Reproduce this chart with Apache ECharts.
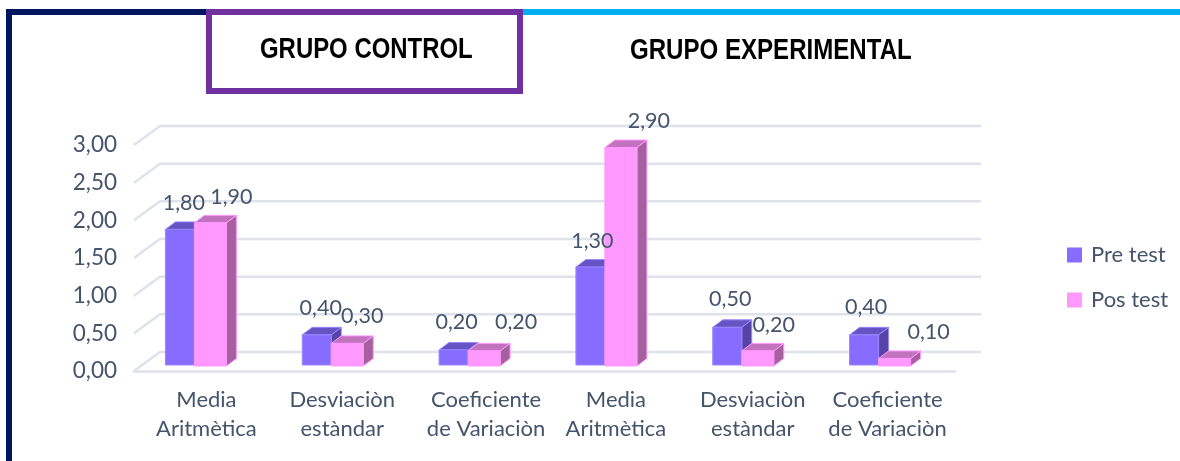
<!DOCTYPE html>
<html>
<head>
<meta charset="utf-8">
<style>
  html, body { margin: 0; padding: 0; background: #fff; }
  #chart { width: 1180px; height: 461px; }
</style>
<script src="https://cdn.jsdelivr.net/npm/echarts@6/dist/echarts.min.js"></script>
</head>
<body>
<div id="chart"></div>
<script>
const categories = [
  "Media\nAritmètica", "Desviaciòn\nestàndar", "Coeficiente\nde Variaciòn",
  "Media\nAritmètica", "Desviaciòn\nestàndar", "Coeficiente\nde Variaciòn"
];
const preTest = [1.8, 0.4, 0.2, 1.3, 0.5, 0.4];
const posTest = [1.9, 0.3, 0.2, 2.9, 0.2, 0.1];
const wallTicks = [0, 0.5, 1, 1.5, 2, 2.5, 3];

// excel moves these labels by hand, so each one gets its own shift from the bar top
const preLabelShift = [[4, -26], [4, -27], [3, -28], [2, -26], [3, -28], [2, -28]];
const posLabelShift = [[21, -26], [15, -27], [32, -29], [28, -26], [16, -26], [34, -26]];
// left padding of the category labels, they are not quite centered in the band
const categoryNudge = [8, 6, 20, 6, 6, 2];

const textColor = "#44546A";
const gridColor = "#DEE2EA";
const font = "Lato";
const titleFont = "bold 29px 'Liberation Sans'";

const fmt = v => v.toFixed(2).replace(".", ",");

function renderWall(params, api) {
  const y = api.coord([0, api.value(0)])[1];
  const cs = params.coordSys;
  const pts = [[cs.x, y], [cs.x + 26, y - 19], [cs.x + cs.width + 26, y - 19]];
  return {
    type: "polyline",
    shape: { points: pts },
    style: { fill: null, stroke: gridColor, lineWidth: 2.5 }
  };
}

function makeBar(opt) {
  return function (params, api) {
    const i = api.value(0);
    const top = api.coord([i, api.value(1)]);
    const base = api.coord([i, 0]);
    const x0 = top[0] + opt.left;
    const x1 = x0 + opt.width;
    const yb = base[1] - opt.lift;
    const yt = top[1] - opt.lift;
    const dx = 10;
    const dy = 7.5;
    return {
      type: "group",
      children: [
        {
          type: "polygon",
          shape: { points: [[x1, yt], [x1 + dx, yt - dy], [x1 + dx, yb - dy], [x1, yb]] },
          style: { fill: opt.side, stroke: opt.edge, lineWidth: 1 }
        },
        {
          type: "polygon",
          shape: { points: [[x0, yt], [x0 + dx, yt - dy], [x1 + dx, yt - dy], [x1, yt]] },
          style: { fill: opt.top, stroke: opt.edge, lineWidth: 1 }
        },
        {
          type: "rect",
          shape: { x: x0, y: yt, width: opt.width, height: yb - yt },
          style: { fill: opt.front, stroke: opt.edge, lineWidth: 1 }
        }
      ]
    };
  };
}

function makeLabel(opt) {
  return function (params, api) {
    const i = api.value(0);
    const v = api.value(1);
    const top = api.coord([i, v]);
    const shift = opt.labels[i];
    return {
      type: "text",
      style: {
        text: fmt(v),
        x: top[0] + opt.left + opt.width / 2 + shift[0],
        y: top[1] - opt.lift + shift[1],
        align: "center",
        verticalAlign: "middle",
        fill: textColor,
        font: "21.5px " + font
      }
    };
  };
}

const preBar = {
  left: -37, width: 29, lift: 6, labels: preLabelShift,
  front: "#866CFF", top: "#6654C4", side: "#5544A6", edge: "#9A86FF"
};
const posBar = {
  left: -8, width: 32, lift: 5, labels: posLabelShift,
  front: "#FF99FF", top: "#C272BE", side: "#A7609F", edge: "#FF99FF"
};

const chart = echarts.init(document.getElementById("chart"), null, { renderer: "canvas" });
chart.setOption({
  backgroundColor: "#fff",
  animation: false,
  grid: { left: 134, right: 225, top: 145, bottom: 90 },
  legend: {
    left: 1062,
    top: 239,
    orient: "vertical",
    itemWidth: 15,
    itemHeight: 15,
    itemGap: 23,
    icon: "rect",
    selectedMode: false,
    data: ["Pre test", "Pos test"],
    textStyle: { color: textColor, fontFamily: font, fontSize: 22, padding: [0, 0, 0, 4] }
  },
  xAxis: {
    type: "category",
    data: categories.map((c, i) => ({
      value: c,
      textStyle: { padding: [0, 0, 0, categoryNudge[i]] }
    })),
    axisTick: { show: false },
    axisLine: { lineStyle: { color: gridColor, width: 2.5 } },
    axisLabel: {
      interval: 0,
      margin: 14,
      color: textColor,
      fontFamily: font,
      fontSize: 22,
      lineHeight: 29
    }
  },
  yAxis: {
    type: "value",
    min: 0,
    max: 3,
    interval: 0.5,
    axisLine: { show: false },
    axisTick: { show: false },
    splitLine: { show: false },
    axisLabel: {
      margin: 17,
      padding: [2, 0, 0, 0],
      color: textColor,
      fontFamily: font,
      fontSize: 22.5,
      formatter: fmt
    }
  },
  series: [
    {
      type: "custom",
      silent: true,
      z: 1,
      clip: false,
      renderItem: renderWall,
      encode: { y: 0 },
      data: wallTicks.map(v => [v])
    },
    {
      name: "Pre test",
      type: "custom",
      z: 2,
      clip: false,
      itemStyle: { color: "#866CFF" },
      encode: { x: 0, y: 1 },
      renderItem: makeBar(preBar),
      data: preTest.map((v, i) => [i, v])
    },
    {
      name: "Pos test",
      type: "custom",
      z: 3,
      clip: false,
      itemStyle: { color: "#FF99FF" },
      encode: { x: 0, y: 1 },
      renderItem: makeBar(posBar),
      data: posTest.map((v, i) => [i, v])
    },
    // labels go in their own series so they stay above the neighbouring bar
    {
      type: "custom",
      silent: true,
      z: 5,
      clip: false,
      encode: { x: 0, y: 1 },
      renderItem: makeLabel(preBar),
      data: preTest.map((v, i) => [i, v])
    },
    {
      type: "custom",
      silent: true,
      z: 5,
      clip: false,
      encode: { x: 0, y: 1 },
      renderItem: makeLabel(posBar),
      data: posTest.map((v, i) => [i, v])
    }
  ],
  graphic: [
    { type: "rect", shape: { x: 6, y: 9, width: 6, height: 452 }, style: { fill: "#00175F" } },
    { type: "rect", shape: { x: 6, y: 9, width: 205, height: 6 }, style: { fill: "#00175F" } },
    { type: "rect", shape: { x: 523, y: 9, width: 657, height: 6 }, style: { fill: "#00B0F0" } },
    {
      type: "rect",
      shape: { x: 209, y: 12, width: 311, height: 79 },
      style: { fill: "#fff", stroke: "#7030A0", lineWidth: 6 }
    },
    {
      type: "text",
      x: 260,
      y: 35,
      scaleX: 0.825,
      style: { text: "GRUPO CONTROL", fill: "#000", font: titleFont }
    },
    {
      type: "text",
      x: 630,
      y: 36,
      scaleX: 0.83,
      style: { text: "GRUPO EXPERIMENTAL", fill: "#000", font: titleFont }
    }
  ]
});
</script>
</body>
</html>
